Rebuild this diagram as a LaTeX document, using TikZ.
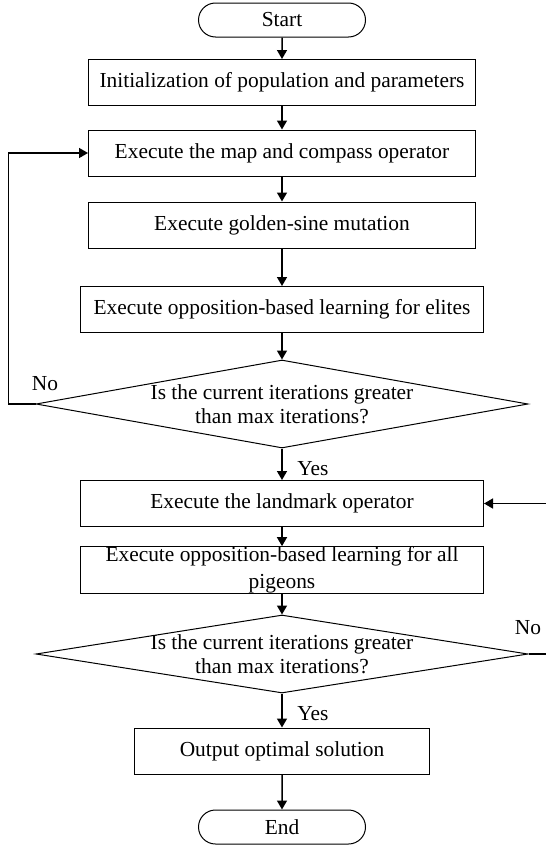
\documentclass[tikz,border=0pt]{standalone}
\usepackage{fontspec}
\setmainfont{Liberation Serif}
\usetikzlibrary{arrows.meta,positioning,shapes.geometric,shapes.misc}

\begin{document}
\begin{tikzpicture}[
  x=0.5pt, y=-0.5pt,
  >={Triangle[width=5pt,length=4.5pt]},
  every node/.style={font=\fontsize{10.7}{12}\selectfont},
  proc/.style={draw, line width=0.5pt, minimum height=23pt, inner sep=0pt, align=center},
  term/.style={draw, rounded rectangle, line width=0.5pt, minimum width=83.5pt, minimum height=17pt, inner sep=0pt},
  decision/.style={draw, diamond, line width=0.5pt, inner sep=0pt, minimum width=246pt},
  flow/.style={->, line width=0.75pt}
]
  \useasboundingbox (0,0) rectangle (546,846);

  % main column
  \node[term] (start) at (282,20) {Start};
  \node[proc, minimum width=193.5pt] (init) at (282,82.5) {Initialization of population and parameters};
  \node[proc, minimum width=193.5pt] (map) at (282,153) {Execute the map and compass operator};
  \node[proc, minimum width=193.5pt] (golden) at (282,225) {Execute golden-sine mutation};
  \node[proc, minimum width=201.5pt] (elite) at (282,309.5) {Execute opposition-based learning for elites};
  \node[decision, minimum height=44pt] (check1) at (282,404) {};
  \node[align=center] (q1) at (check1) {Is the current iterations greater\\than max iterations?};
  \node[proc, minimum width=201.5pt] (landmark) at (282,503.5) {Execute the landmark operator};
  \node[proc, minimum width=201.5pt, font=\fontsize{10.7}{13.5}\selectfont] (obl) at (282,570) {Execute opposition-based learning for all\\pigeons};
  \node[decision, minimum height=39pt] (check2) at (282,654) {};
  \node[align=center] (q2) at (check2) {Is the current iterations greater\\than max iterations?};
  \node[proc, minimum width=147.5pt] (output) at (282,751) {Output optimal solution};
  \node[term] (end) at (282,827) {End};

  \draw[flow] (start) -- (init);
  \draw[flow] (init) -- (map);
  \draw[flow] (map) -- (golden);
  \draw[flow] (golden) -- (elite);
  \draw[flow] (elite) -- (check1);
  \draw[flow] (check1) -- node[right=4pt, pos=0.65] (yes1) {Yes} (landmark);
  \draw[flow] (landmark) -- (obl);
  \draw[flow] (obl) -- (check2);
  \draw[flow] (check2) -- node[right=4pt, pos=0.6] (yes2) {Yes} (output);
  \draw[flow] (output) -- (end);

  % loops back
  \draw[flow] (check1.west) -- ++(-27,0) |- (map.west);
  \node (no1) at (45,384) {No};
  \draw[flow] (check2.east) -- ++(40,0) |- (landmark.east);
  \node (no2) at (528,628) {No};
\end{tikzpicture}
\end{document}
